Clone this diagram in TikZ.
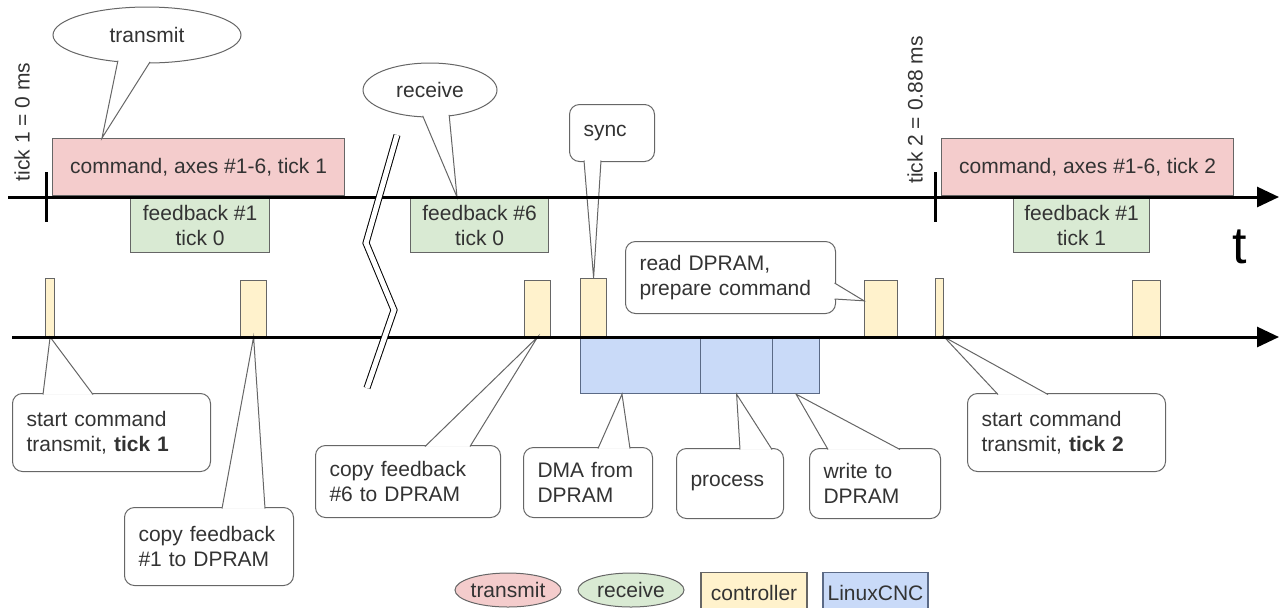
\documentclass[tikz,border=0pt]{standalone}
\usepackage{fontspec}
\setmainfont{Liberation Sans}
\usetikzlibrary{shapes.geometric,arrows.meta,calc}
\definecolor{txred}{HTML}{F4CCCC}
\definecolor{rxgreen}{HTML}{D9EAD3}
\definecolor{ctlyellow}{HTML}{FFF2CC}
\definecolor{cncblue}{HTML}{C9DAF8}
\definecolor{edge}{HTML}{666666}
\definecolor{cncedge}{HTML}{5B6A86}
\begin{document}
\begin{tikzpicture}[x=0.5pt,y=-0.5pt,
    font=\fontsize{10.5}{12.5}\selectfont, text=black!80,
    box/.style={draw=edge, line width=0.6pt, inner sep=0pt, anchor=north west, align=center},
    cmd/.style={box, fill=txred, minimum width=146pt, minimum height=28.5pt},
    fb/.style={box, fill=rxgreen, minimum height=27.5pt},
    ctrl/.style={box, fill=ctlyellow, anchor=south west},
    cnc/.style={box, draw=cncedge, fill=cncblue, minimum height=28pt},
    note/.style={draw=edge, line width=0.5pt, fill=white, rounded corners=5pt, anchor=north west,
        align=left, inner xsep=7pt, inner ysep=0pt},
    bubble/.style={draw=edge, line width=0.5pt, fill=white, ellipse, inner sep=0pt},
    tail/.style={draw=edge, line width=0.5pt, fill=white, line join=miter},
    axis/.style={line width=1.5pt, -{Triangle[length=11pt,width=10pt]}}]
\useasboundingbox (0,0) rectangle (1279,607);
\clip (0,0) rectangle (1279,607);

% transmit / receive on the bus
\node[cmd] (cmd1) at (52,138) {command, axes \#1-6, tick 1};
\node[cmd] (cmd2) at (941,138) {command, axes \#1-6, tick 2};
\node[fb, minimum width=69.5pt] (fb1) at (130,197) {feedback \#1\\tick 0};
\node[fb, minimum width=69pt] (fb6) at (410,197) {feedback \#6\\tick 0};
\node[fb, minimum width=68pt] (fb1b) at (1013,197) {feedback \#1\\tick 1};

% controller
\node[ctrl, minimum width=4.5pt, minimum height=29pt] (c1) at (45,337) {};
\node[ctrl, minimum width=13pt, minimum height=28pt] (c2) at (240,337) {};
\node[ctrl, minimum width=13pt, minimum height=28pt] (c3) at (524,337) {};
\node[ctrl, minimum width=13pt, minimum height=29pt] (c4) at (580,337) {};
\node[ctrl, minimum width=16.5pt, minimum height=28pt] (c5) at (864,337) {};
\node[ctrl, minimum width=4pt, minimum height=29pt] (c6) at (935,337) {};
\node[ctrl, minimum width=14pt, minimum height=28pt] (c7) at (1132,337) {};

% LinuxCNC
\node[cnc, minimum width=60pt] (l1) at (580,337) {};
\node[cnc, minimum width=36pt] (l2) at (700,337) {};
\node[cnc, minimum width=23.5pt] (l3) at (772,337) {};

% callouts
\node[bubble, minimum width=94pt, minimum height=28pt] (btx) at (147,35) {transmit};
\draw[tail] ($(btx.223)+(0,-1.5)$) -- ($(cmd1.north west)+(50,0)$) -- ($(btx.276)+(0,-1.5)$);
\node[bubble, minimum width=67pt, minimum height=27pt] (brx) at (430,90) {receive};
\draw[tail] ($(brx.255)+(0,-1.5)$) -- ($(fb6.north west)+(47,0)$) -- ($(brx.306)+(0,-1.5)$);

\node[note, text width=28.5pt, minimum height=28.5pt] (sync) at (569,104) {sync};
\draw[tail] ($(sync.south west)+(15,-1.5)$) -- (c4.north) -- ($(sync.south west)+(32,-1.5)$);
\node[note, text width=91pt, minimum height=36pt] (rd) at (625,241) {read DPRAM,\\prepare command};
\draw[tail] ($(rd.north east)+(-1.5,42)$) -- ($(c5.north west)+(0,21)$) -- ($(rd.north east)+(-1.5,58)$);

\node[note, text width=85pt, minimum height=39pt] (st1) at (12,393) {start command\\transmit, \textbf{tick 1}};
\draw[tail] ($(st1.north west)+(31,1.5)$) -- (c1.south) -- ($(st1.north west)+(81,1.5)$);
\node[note, text width=70.5pt, minimum height=39pt] (cp1) at (124,507) {copy feedback\\\#1 to DPRAM};
\draw[tail] ($(cp1.north west)+(98,1.5)$) -- (c2.south) -- ($(cp1.north west)+(141,1.5)$);
\node[note, text width=78.5pt, minimum height=36pt] (cp6) at (315,445) {copy feedback\\\#6 to DPRAM};
\draw[tail] ($(cp6.north west)+(110,1.5)$) -- (c3.south) -- ($(cp6.north west)+(155,1.5)$);
\node[note, text width=50.5pt, minimum height=35pt] (dma) at (523,447) {DMA from\\DPRAM};
\draw[tail] ($(dma.north west)+(75,1.5)$) -- ($(l1.south west)+(42,0)$) -- ($(dma.north west)+(107,1.5)$);
\node[note, text width=39.5pt, minimum height=35pt] (proc) at (676,448) {process};
\draw[tail] ($(proc.north west)+(64,1.5)$) -- (l2.south) -- ($(proc.north west)+(96,1.5)$);
\node[note, text width=51.5pt, minimum height=35pt] (wr) at (809,448) {write to\\DPRAM};
\draw[tail] ($(wr.north west)+(19,1.5)$) -- (l3.south) -- ($(wr.north west)+(91,1.5)$);
\node[note, text width=85pt, minimum height=39pt] (st2) at (967,393) {start command\\transmit, \textbf{tick 2}};
\draw[tail] ($(st2.north west)+(31,1.5)$) -- (c6.south east) -- ($(st2.north west)+(81,1.5)$);

% time axes
\draw[axis] (8,197) -- (1279,197);
\draw[axis] (12,337) -- (1279,337);
\draw[line width=1.5pt] (46,172) -- (46,222);
\draw[line width=1.5pt] (935,172) -- (935,222);
\node[rotate=90] (tk1) at (22,122) {tick 1 = 0 ms};
\node[rotate=90] (tk2) at (915,110) {tick 2 = 0.88 ms};
\node[font=\fontsize{26}{30}\selectfont, text=black] (tlab) at (1240,247) {t};

% break
\draw[double=white, double distance=2.5pt, line width=0.5pt] (397,135) -- (366,243) -- (394,310) -- (367,388);

% legend
\node[bubble, fill=txred, minimum width=53pt, minimum height=17pt] (ktx) at (508,590) {transmit};
\node[bubble, fill=rxgreen, minimum width=53pt, minimum height=17pt] (krx) at (631,590) {receive};
\node[box, fill=ctlyellow, anchor=north, minimum width=53pt, minimum height=20pt] (kctl) at (754,572) {controller};
\node[cnc, anchor=north, minimum width=52.5pt, minimum height=20pt] (kcnc) at (875.5,572) {LinuxCNC};
\end{tikzpicture}
\end{document}
